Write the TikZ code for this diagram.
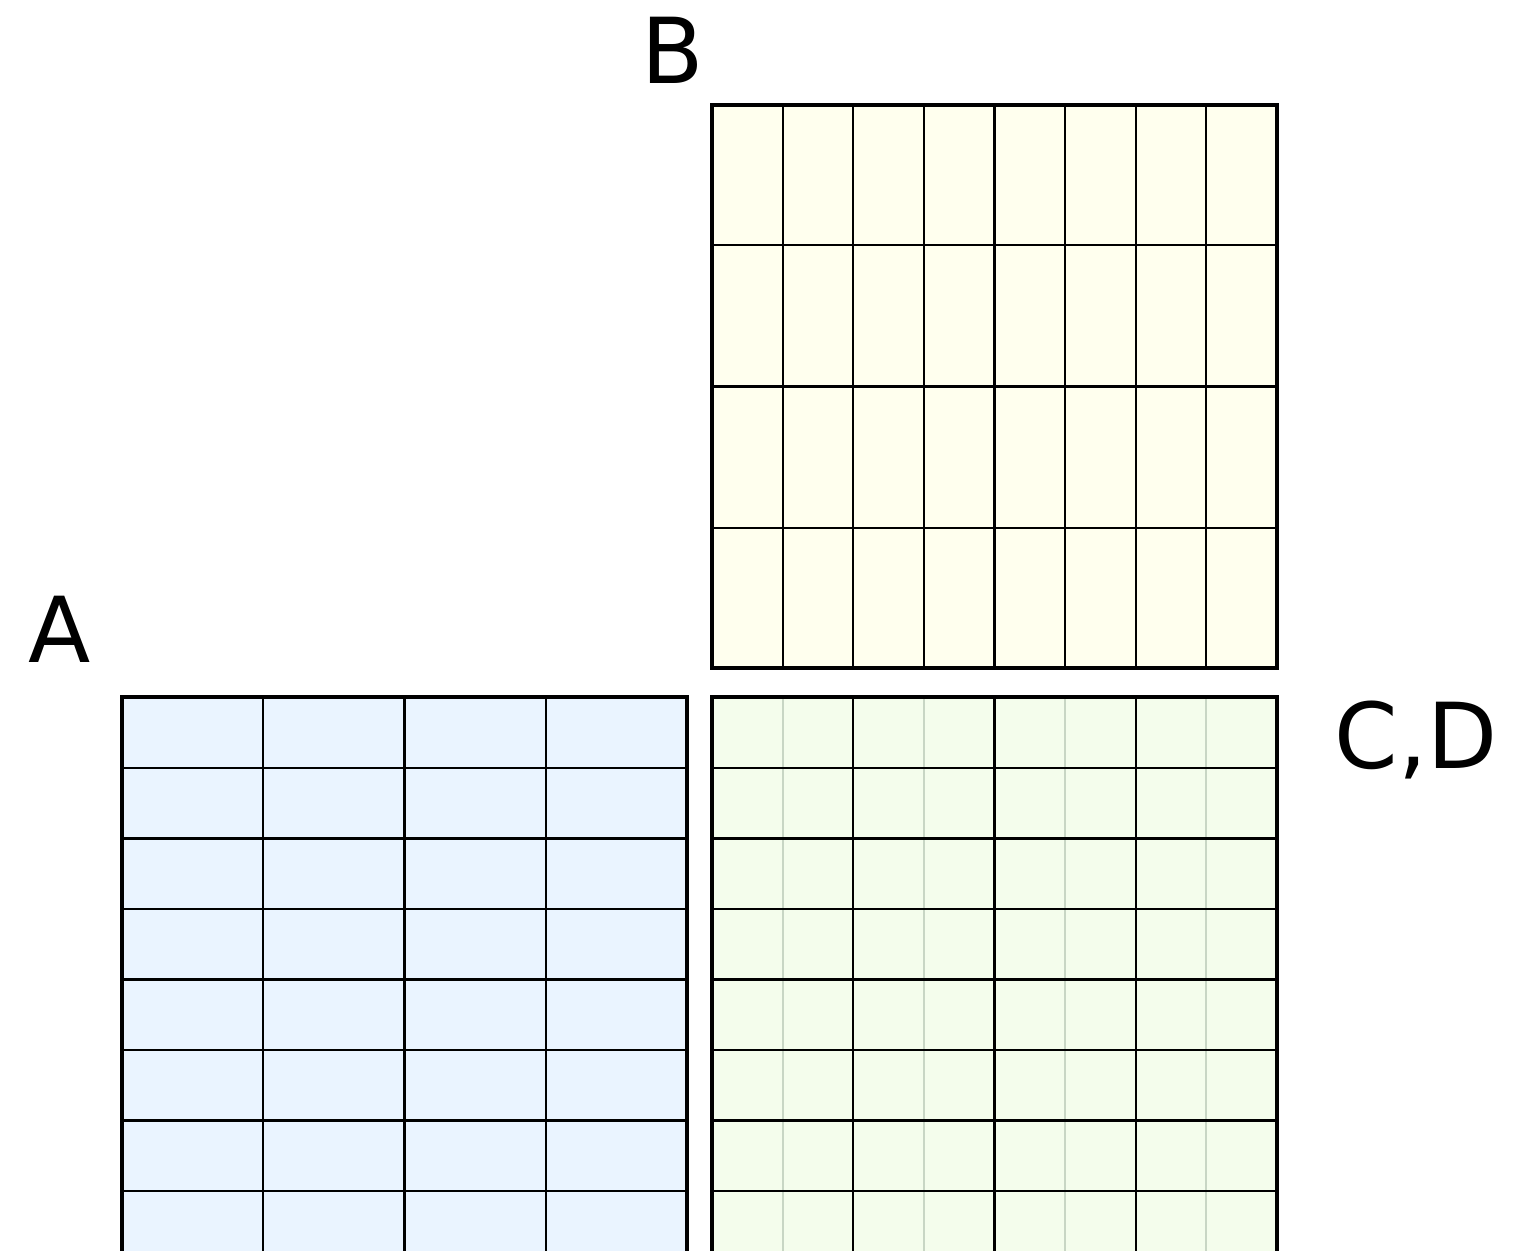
\documentclass[tikz,border=0pt]{standalone}
\usepackage{fontspec}
\setmainfont{DejaVu Sans}
\definecolor{fillA}{RGB}{234,244,255}
\definecolor{fillB}{RGB}{255,255,238}
\definecolor{fillCD}{RGB}{244,253,236}
\definecolor{faint}{RGB}{200,214,196}
\begin{document}
\begin{tikzpicture}[x=0.5pt,y=-0.5pt,
  outer/.style={draw=black,line width=2pt},
  inner/.style={draw=black,line width=1.1pt},
  faintline/.style={draw=faint,line width=1.1pt},
  lbl/.style={font=\fontsize{45.5}{50}\selectfont,inner sep=0pt,anchor=center}]
\useasboundingbox (0,0) rectangle (1514,1251);
% Box B
\fill[fillB] (712,105) rectangle (1277,668);
\foreach \i in {1,...,7} \draw[inner] ({712+\i*70.6},105) -- ({712+\i*70.6},668);
\foreach \j in {1,2,3} \draw[inner] (712,{104+\j*141.3}) -- (1277,{104+\j*141.3});
\draw[outer] (712,105) rectangle (1277,668);
% Box A
\fill[fillA] (122,697) rectangle (687,1262);
\foreach \i in {1,2,3} \draw[inner] ({122+\i*141.25},697) -- ({122+\i*141.25},1262);
\foreach \j in {1,...,7} \draw[inner] (122,{697.5+\j*70.5}) -- (687,{697.5+\j*70.5});
\draw[outer] (122,697) rectangle (687,1262);
% Box C,D
\fill[fillCD] (712,697) rectangle (1277,1262);
\foreach \i in {1,3,5,7} \draw[faintline] ({712+\i*70.6},697) -- ({712+\i*70.6},1262);
\foreach \i in {2,4,6} \draw[inner] ({712+\i*70.6},697) -- ({712+\i*70.6},1262);
\foreach \j in {1,...,7} \draw[inner] (712,{697.5+\j*70.5}) -- (1277,{697.5+\j*70.5});
\draw[outer] (712,697) rectangle (1277,1262);
% Labels
\node[lbl] (labB) at (673,50) {B};
\node[lbl] (labA) at (60,629) {A};
\node[lbl] (labCD) at (1416,740) {C,D};
\end{tikzpicture}
\end{document}
